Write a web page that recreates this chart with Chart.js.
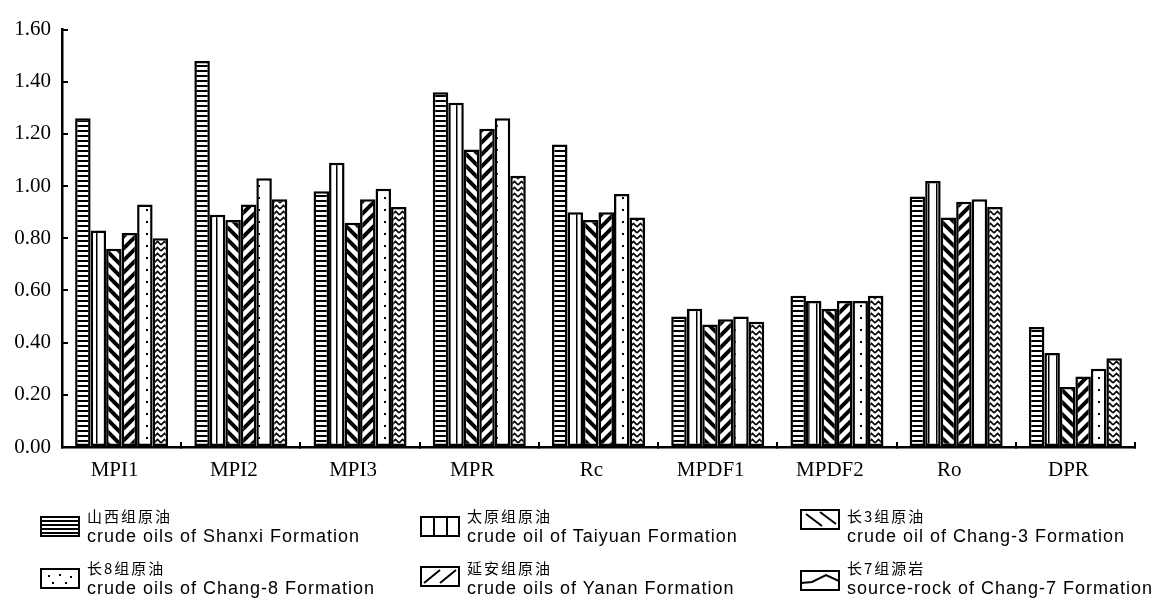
<!DOCTYPE html>
<html>
<head>
<meta charset="utf-8">
<script src="https://cdn.jsdelivr.net/npm/chart.js@4.4.0/dist/chart.umd.min.js"></script>
<style>
  html, body { margin: 0; padding: 0; background: #fff; }
  #wrap { position: relative; width: 1161px; height: 601px; }
  #legend { position: absolute; left: 0; top: 0; }
  .item { position: absolute; }
  .item canvas { position: absolute; left: 0; }
  .item .txt { position: absolute; left: 47px; top: 0; white-space: nowrap; color: #000; }
  .zh { font-family: "Noto Sans CJK SC"; font-size: 15px; letter-spacing: 2px; line-height: 20px; }
  .en { font-family: "Liberation Sans"; font-size: 18px; letter-spacing: 1px; line-height: 20px; }
</style>
</head>
<body>
<div id="wrap">
  <canvas id="myChart" width="1161" height="601"></canvas>
  <div id="legend"></div>
</div>
<script>
// categories on the x axis
var categories = ['MPI1', 'MPI2', 'MPI3', 'MPR', 'Rc', 'MPDF1', 'MPDF2', 'Ro', 'DPR'];

// one array per oil / rock group
var shanxi  = [1.26, 1.48, 0.98, 1.36, 1.16, 0.50, 0.58, 0.96, 0.46];
var taiyuan = [0.83, 0.89, 1.09, 1.32, 0.90, 0.53, 0.56, 1.02, 0.36];
var chang3  = [0.76, 0.87, 0.86, 1.14, 0.87, 0.47, 0.53, 0.88, 0.23];
var yanan   = [0.82, 0.93, 0.95, 1.22, 0.90, 0.49, 0.56, 0.94, 0.27];
var chang8  = [0.93, 1.03, 0.99, 1.26, 0.97, 0.50, 0.56, 0.95, 0.30];
var chang7  = [0.80, 0.95, 0.92, 1.04, 0.88, 0.48, 0.58, 0.92, 0.34];

// y axis ticks
var yTicks = [0, 0.2, 0.4, 0.6, 0.8, 1.0, 1.2, 1.4, 1.6];

// legend names
var zhNames = ['山西组原油', '太原组原油', '长3组原油', '长8组原油', '延安组原油', '长7组源岩'];
var enNames = ['crude oils of Shanxi Formation', 'crude oil of Taiyuan Formation', 'crude oil of Chang-3 Formation',
               'crude oils of Chang-8 Formation', 'crude oils of Yanan Formation', 'source-rock of Chang-7 Formation'];

//function to make a small tile with the fill pattern of a group
function makeTile(kind){
   var c = document.createElement('canvas');
   var w = 12, h = 12;
   if(kind == 'hline'){ w = 6; h = 5; }
   if(kind == 'vline'){ w = 8; h = 8; }
   if(kind == 'dots'){ w = 14; h = 12; }
   if(kind == 'wave'){ w = 7; h = 6; }
   c.width = w; c.height = h;
   var g = c.getContext('2d');
   g.fillStyle = '#fff';
   g.fillRect(0, 0, w, h);
   g.strokeStyle = '#000';
   g.fillStyle = '#000';
   if(kind == 'hline'){
      g.fillRect(0, 0, w, 2);
   }
   else if(kind == 'vline'){
      g.fillRect(0, 0, 1.5, h);
   }
   else if(kind == 'back'){
      // thick "\" lines
      g.lineWidth = 4;
      g.beginPath();
      g.moveTo(-3, -3); g.lineTo(w + 3, h + 3);
      g.moveTo(-3, h - 3); g.lineTo(3, h + 3);
      g.moveTo(w - 3, -3); g.lineTo(w + 3, 3);
      g.stroke();
   }
   else if(kind == 'fwd'){
      // thick "/" lines
      g.lineWidth = 4;
      g.beginPath();
      g.moveTo(-3, h + 3); g.lineTo(w + 3, -3);
      g.moveTo(-3, 3); g.lineTo(3, -3);
      g.moveTo(w - 3, h + 3); g.lineTo(w + 3, h - 3);
      g.stroke();
   }
   else if(kind == 'dots'){
      g.fillRect(6, 5, 2, 2);
   }
   else if(kind == 'wave'){
      // stacked "^" marks
      g.lineWidth = 1.6;
      g.beginPath();
      g.moveTo(0, 5); g.lineTo(3.5, 1.5); g.lineTo(7, 5);
      g.stroke();
   }
   return c;
}

function makePattern(ctx, kind){
   return ctx.createPattern(makeTile(kind), 'repeat');
}

var ctx = document.getElementById('myChart').getContext('2d');

// bar order in each group: Shanxi, Taiyuan, Chang-3, Yanan, Chang-8, Chang-7
var seriesList = [
   {name: 0, data: shanxi, kind: 'hline'},
   {name: 1, data: taiyuan, kind: 'vline'},
   {name: 2, data: chang3, kind: 'back'},
   {name: 4, data: yanan, kind: 'fwd'},
   {name: 3, data: chang8, kind: 'dots'},
   {name: 5, data: chang7, kind: 'wave'}
];

var datasets = [];
for (var i = 0; i < seriesList.length; i++) {
   datasets.push({
      label: zhNames[seriesList[i].name],
      data: seriesList[i].data,
      backgroundColor: makePattern(ctx, seriesList[i].kind),
      borderColor: '#000',
      borderWidth: 2.5,
      borderSkipped: false,
      categoryPercentage: 0.78,
      barPercentage: 1.0
   });
}

var chart = new Chart(ctx, {
   type: 'bar',
   data: {
      labels: categories,
      datasets: datasets
   },
   options: {
      responsive: false,
      animation: false,
      devicePixelRatio: 1,
      layout: { padding: { top: 18, right: 26, bottom: 114, left: 0 } },
      plugins: {
         legend: { display: false },
         tooltip: { enabled: false }
      },
      scales: {
         x: {
            afterFit: function(scale){ scale.height = 40; },
            grid: { offset: true, drawOnChartArea: false, tickLength: -5, color: '#000', lineWidth: 2 },
            border: { color: '#000', width: 2.5 },
            ticks: {
               color: '#000',
               padding: 16,
               labelOffset: -7,
               font: { family: 'Liberation Serif', size: 21 }
            }
         },
         y: {
            min: 0,
            max: 1.6,
            afterFit: function(scale){ scale.width = 62; },
            afterBuildTicks: function(scale){
               scale.ticks = yTicks.map(function(v){ return {value: v}; });
            },
            grid: { drawOnChartArea: false, tickLength: -6, color: '#000', lineWidth: 2 },
            border: { color: '#000', width: 2.5 },
            ticks: {
               color: '#000',
               padding: 17,
               font: { family: 'Liberation Serif', size: 21 },
               callback: function(v){ return Number(v).toFixed(2); }
            }
         }
      }
   }
});

//function to draw a legend swatch the way the printed key shows it
function drawSwatch(g, kind){
   var w = 40, h = 21;
   g.fillStyle = '#fff';
   g.fillRect(0, 0, w, h);
   g.strokeStyle = '#000';
   g.fillStyle = '#000';
   g.lineWidth = 2;
   g.beginPath();
   if(kind == 'hline'){
      for (var y = 5; y < h - 2; y += 4) { g.moveTo(1, y); g.lineTo(w - 1, y); }
   }
   else if(kind == 'vline'){
      g.moveTo(14, 1); g.lineTo(14, h - 1);
      g.moveTo(27, 1); g.lineTo(27, h - 1);
   }
   else if(kind == 'back'){
      g.moveTo(6, 5); g.lineTo(22, 17);
      g.moveTo(20, 3); g.lineTo(36, 15);
   }
   else if(kind == 'fwd'){
      g.moveTo(4, 17); g.lineTo(20, 4);
      g.moveTo(20, 17); g.lineTo(36, 4);
   }
   else if(kind == 'wave'){
      g.moveTo(1, 13); g.lineTo(12, 12); g.lineTo(26, 5); g.lineTo(39, 11);
   }
   g.stroke();
   if(kind == 'dots'){
      var pts = [[8, 7], [19, 6], [30, 8], [12, 14], [25, 14]];
      for (var p = 0; p < pts.length; p++) g.fillRect(pts[p][0], pts[p][1], 2, 2);
   }
   g.lineWidth = 2;
   g.strokeRect(1, 1, w - 2, h - 2);
}

//function to build the legend below the chart
function createLegend(){
   var legend = document.getElementById('legend');
   var swatchKinds = ['hline', 'vline', 'back', 'dots', 'fwd', 'wave'];
   // three columns, two rows
   var cols = [40, 420, 800];
   var rows = [506, 558];
   var boxTop = [[10, 10, 3], [10, 8, 12]];
   for (var n = 0; n < 6; n++) {
      var r = Math.floor(n / 3), c = n % 3;
      var item = document.createElement('div');
      item.className = 'item';
      item.style.left = cols[c] + 'px';
      item.style.top = rows[r] + 'px';
      var sw = document.createElement('canvas');
      sw.width = 40; sw.height = 21;
      sw.style.top = boxTop[r][c] + 'px';
      drawSwatch(sw.getContext('2d'), swatchKinds[n]);
      item.appendChild(sw);
      var txt = document.createElement('div');
      txt.className = 'txt';
      txt.innerHTML = '<div class="zh">' + zhNames[n] + '</div><div class="en">' + enNames[n] + '</div>';
      item.appendChild(txt);
      legend.appendChild(item);
   }
}
createLegend();
</script>
</body>
</html>
